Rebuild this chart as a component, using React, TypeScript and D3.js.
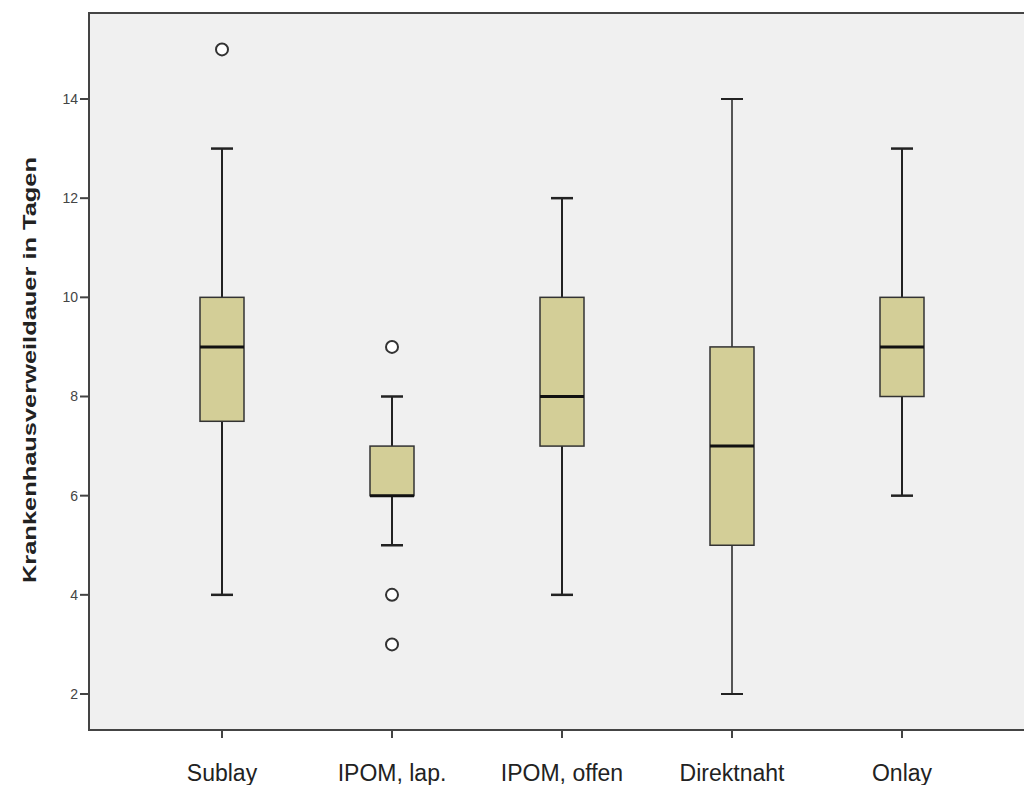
import * as d3 from 'd3';

const categories = ['Sublay', 'IPOM, lap.', 'IPOM, offen', 'Direktnaht', 'Onlay'];
const whiskerLow = [4, 5, 4, 2, 6];
const q1 = [7.5, 6, 7, 5, 8];
const medians = [9, 6, 8, 7, 9];
const q3 = [10, 7, 10, 9, 10];
const whiskerHigh = [13, 8, 12, 14, 13];
const outliers = [[15], [9, 4, 3], [], [], []];
const yTicks = [2, 4, 6, 8, 10, 12, 14];

export default function App() {
  const width = 1024, height = 785;
  const left = 89, top = 13, bottom = 730, right = 1120;

  const y = d3.scaleLinear().domain([2, 14]).range([694, 99]);
  const x = d3.scalePoint().domain(categories).range([222, 902]);

  const boxW = 44, capW = 22;
  const font = 'Arial, "Liberation Sans", sans-serif';

  return (
    <svg width={width} height={height} style={{ position: 'absolute', left: 0, top: 0, background: '#fff' }}>
      <rect x={left} y={top} width={right - left} height={bottom - top} fill="#f0f0f0" stroke="#444" strokeWidth={2} />

      {/* y axis ticks */}
      {yTicks.map((t) => (
        <g key={t}>
          <line x1={left - 9} x2={left} y1={y(t)} y2={y(t)} stroke="#444" strokeWidth={2} />
          <text x={left - 11} y={y(t)} dy="0.35em" textAnchor="end" fontSize={14} fill="#444" fontFamily={font}>{t}</text>
        </g>
      ))}

      {/* x axis ticks + labels */}
      {categories.map((c) => (
        <g key={c}>
          <line x1={x(c)} x2={x(c)} y1={bottom} y2={bottom + 8} stroke="#444" strokeWidth={2} />
          <text x={x(c)} y={781} textAnchor="middle" fontSize={23} fill="#222" fontFamily={font}>{c}</text>
        </g>
      ))}

      <text transform={`translate(36,370) rotate(-90)`} textAnchor="middle" fontSize={19} fontWeight="bold" fill="#222" fontFamily={font}
        textLength={426} lengthAdjust="spacingAndGlyphs">
        Krankenhausverweildauer in Tagen
      </text>

      {categories.map((c, i) => {
        const cx = x(c) as number;
        const sw = i === 3 ? 1.5 : 2;
        return (
          <g key={c}>
            <line x1={cx} x2={cx} y1={y(whiskerHigh[i])} y2={y(q3[i])} stroke="#222" strokeWidth={sw} />
            <line x1={cx} x2={cx} y1={y(q1[i])} y2={y(whiskerLow[i])} stroke="#222" strokeWidth={sw} />
            <line x1={cx - capW / 2} x2={cx + capW / 2} y1={y(whiskerHigh[i])} y2={y(whiskerHigh[i])} stroke="#222" strokeWidth={sw + 0.5} />
            <line x1={cx - capW / 2} x2={cx + capW / 2} y1={y(whiskerLow[i])} y2={y(whiskerLow[i])} stroke="#222" strokeWidth={sw + 0.5} />
            <rect x={cx - boxW / 2} y={y(q3[i])} width={boxW} height={y(q1[i]) - y(q3[i])} fill="#d3ce97" stroke="#333" strokeWidth={1.5} />
            <line x1={cx - boxW / 2} x2={cx + boxW / 2} y1={y(medians[i])} y2={y(medians[i])} stroke="#111" strokeWidth={3} />
            {outliers[i].map((o, j) => (
              <circle key={j} cx={cx} cy={y(o)} r={6} fill="#fff" stroke="#333" strokeWidth={2} />
            ))}
          </g>
        );
      })}
    </svg>
  );
}
